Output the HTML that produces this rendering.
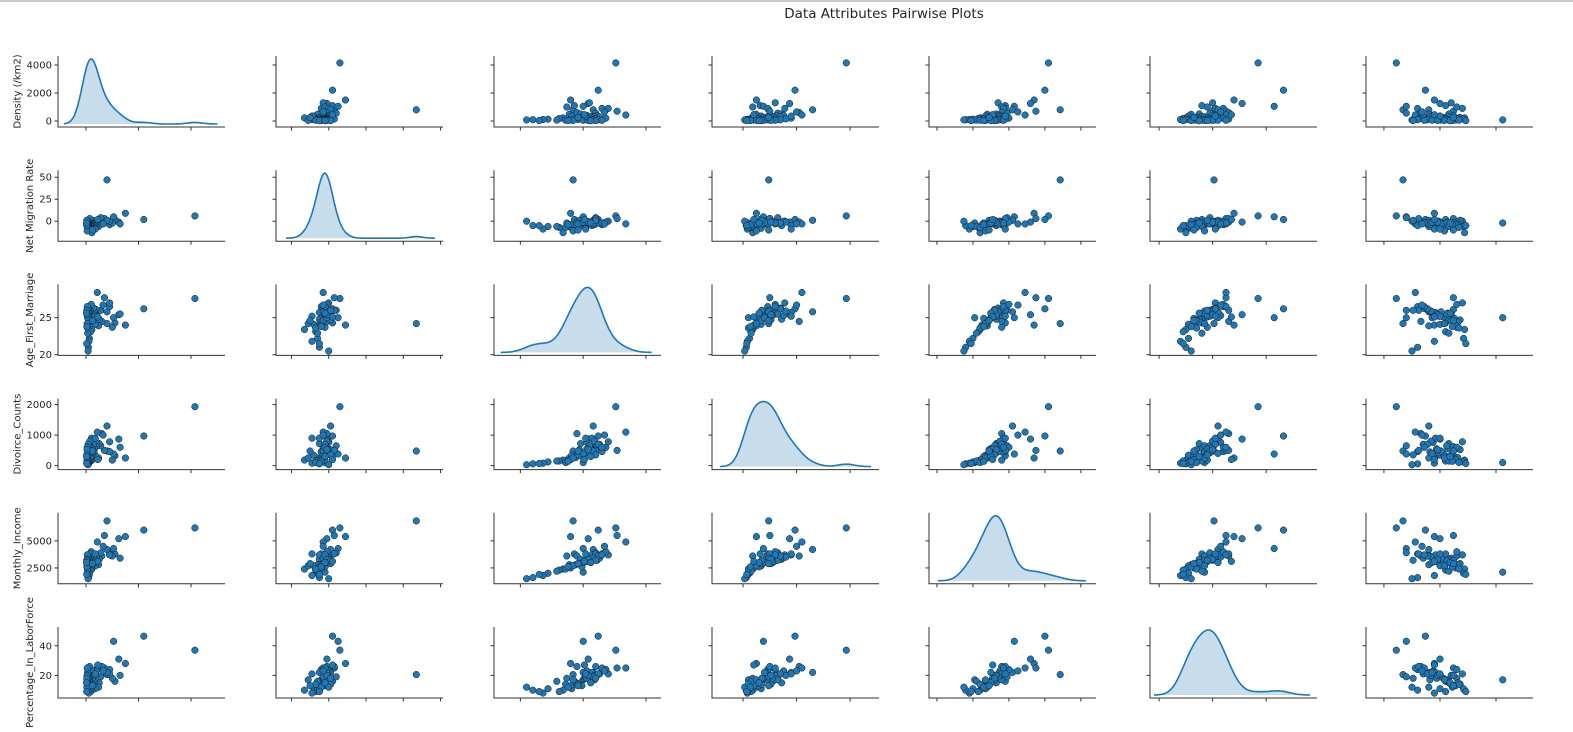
<!DOCTYPE html>
<html><head><meta charset="utf-8"><style>
html,body{margin:0;padding:0;background:#fff;width:1573px;height:732px;overflow:hidden}
svg{display:block}
text{font-family:"DejaVu Sans","Liberation Sans",sans-serif;fill:#262626}
</style></head><body>
<svg id="chart" width="1573" height="732" viewBox="0 0 1573 732" xmlns="http://www.w3.org/2000/svg">
<rect x="0" y="0" width="1573" height="2" fill="#c8c8c8"/>
<text x="884" y="18" font-size="13.5" text-anchor="middle">Data Attributes Pairwise Plots</text>
</svg>
<script>
const varNames = ['Density (/km2)','Net Migration Rate','Age_First_Marriage','Divoirce_Counts','Monthly_Income','Percentage_In_LaborForce','Population (millions)'];
const density = [4150,2200,800,80,1500,1250,1300,1100,1050,900,700,1000,900,800,600,560,500,480,430,400,380,350,330,300,290,260,240,220,210,200,190,180,170,160,150,140,130,120,110,100,95,90,85,80,75,70,65,60,55,50,45,40,35,30,25,20,350,650,450,250];
const netMigration = [6,2,47,-2,9,-1,-3,2,5,-4,3,-2,0,1,-1,4,-5,-6,-3,0,-2,-8,-1,-4,-2,1,-3,-13,-5,-1,-2,-7,0,-4,-1,3,-6,-2,-9,-3,-1,-5,-2,0,-4,-3,-6,-1,-7,-2,-11,-1,-4,1,-5,-2,-9,-3,2,-10];
const ageFirstMarriage = [27.6,26.2,24.2,25.0,24.0,25.4,25.5,24.3,25.0,26.5,27.7,23.7,27.0,25.8,24.5,26.0,24.8,23.9,28.4,25.3,26.1,24.1,25.6,25.9,26.3,24.7,25.1,23.4,25.7,26.8,24.9,23.1,25.2,24.4,25.9,26.0,22.2,25.5,21.8,24.6,25.3,21.0,26.2,20.5,24.0,25.8,22.9,25.0,23.6,26.5,24.2,25.4,23.8,26.0,21.5,25.6,25.2,26.7,25.1,24.6];
const divorceCounts = [1930,970,480,100,250,870,600,320,380,460,500,180,780,1300,1050,650,720,250,1100,760,620,340,560,450,700,520,380,180,900,600,300,150,420,260,800,500,120,650,80,350,550,60,700,30,200,480,150,400,100,600,250,520,140,350,70,300,900,1000,200,480];
const monthlyIncome = [6200,6000,6850,2100,5400,5200,3400,3800,4300,3800,5500,3600,3700,4200,3600,3900,3300,2800,4900,3500,3200,2700,3000,3600,3400,2900,3100,2400,3700,4000,2600,2300,3300,2800,3500,3800,2000,3200,1800,2900,3100,1600,3600,1500,2500,3400,2200,3000,2400,3700,2700,3300,2600,3200,1900,3000,3800,4500,3100,2900];
const pctLaborForce = [37,46.5,20.5,17,28,31,20,16,43,24,25,18,21,22,26,19,15,12,25,23,20,11,16,17,21,14,18,10,22,24,13,9,19,15,20,26,11,17,8,14,18,10,21,12,13,19,16,22,14,25,17,20,12,18,9,15,21,23,27,13];
const population = [11,37,17,106,45,50,60,55,20,30,62,65,70,40,33,20,58,40,28,44,62,50,57,41,35,68,53,72,46,65,63,55,49,66,42,31,71,56,45,60,47,30,39,25,64,51,58,43,67,36,54,48,61,26,73,59,50,34,45,62];
const series = [density,netMigration,ageFirstMarriage,divorceCounts,monthlyIncome,pctLaborForce,population];
const xDomains = [[-1067,5295],[-28.3,61.3],[17.9,31.2],[-580,2540],[-442,8840],[-3.4,59],[-16,133]];
const yDomains = [[-429,4643],[-22.7,58],[19.9,29.5],[-131,2197],[1030,7600],[4.7,52.7]];
const xTicks = [[0,2000,4000],[-20,0,20,40,60],[20,25,30],[0,1000,2000],[0,2000,4000,6000,8000],[0,20,40],[0,50,100]];
const yTicks = [[0,2000,4000],[0,25,50],[20,25],[0,1000,2000],[2500,5000],[20,40]];

const NS='http://www.w3.org/2000/svg';
const svg=document.getElementById('chart');
const LEFT=[58,276,494,712,929,1150,1366], W=167, H=71;
const TOP=r=>56+114.2*r;
function mk(tag,attrs,parent){const e=document.createElementNS(NS,tag);for(const k in attrs)e.setAttribute(k,attrs[k]);(parent||svg).appendChild(e);return e;}
function xs(c,v){const d=xDomains[c];return LEFT[c]+(v-d[0])/(d[1]-d[0])*W;}
function ys(r,v){const d=yDomains[r];return TOP(r)+H-(v-d[0])/(d[1]-d[0])*H;}

for(let r=0;r<6;r++){
  for(let c=0;c<7;c++){
    const g=mk('g',{});
    
    
    const x0=LEFT[c], y0=TOP(r), yb=y0+H;
    if(r===c){
      const vals=series[c];const n=vals.length;
      const mean=vals.reduce((a,b)=>a+b,0)/n;
      const sd=Math.sqrt(vals.reduce((a,b)=>a+(b-mean)*(b-mean),0)/(n-1));
      const bw=sd*Math.pow(n,-0.2);
      const mn=Math.min(...vals)-3*bw, mx=Math.max(...vals)+3*bw;
      const pts=[];let peak=0;
      for(let i=0;i<=240;i++){const v=mn+(mx-mn)*i/240;let s=0;for(const d of vals){const z=(v-d)/bw;s+=Math.exp(-0.5*z*z);}pts.push([v,s]);if(s>peak)peak=s;}
      const base=yb-3, top=y0+3;
      let dl='';pts.forEach((p,i)=>{const px=xs(c,p[0]),py=base-(p[1]/peak)*(base-top);dl+=(i?'L':'M')+px.toFixed(1)+','+py.toFixed(1);});
      const fill=mk('path',{d:dl+'L'+xs(c,mx).toFixed(1)+','+base+'L'+xs(c,mn).toFixed(1)+','+base+'Z',fill:'#1f77b4','fill-opacity':'0.25',stroke:'none'},g);
      
      
      const line=mk('path',{d:dl,fill:'none',stroke:'#1f77b4','stroke-width':'1.6'},g);
      
      
    } else {
      const xv=series[c], yv=series[r];
      for(let i=0;i<xv.length;i++){
        const pt=mk('circle',{cx:xs(c,xv[i]).toFixed(1),cy:ys(r,yv[i]).toFixed(1),r:'3.3',fill:'#1f77b4',stroke:'#1a1a1a','stroke-width':'0.5'},g);
        
        
      }
    }
    const ax=mk('path',{d:'M'+x0+','+y0+'V'+yb+'H'+(x0+W),fill:'none',stroke:'#333','stroke-width':'1'},g);
    
    
    for(const t of xTicks[c]){const px=xs(c,t);const tk=mk('line',{x1:px,x2:px,y1:yb,y2:yb+3.5,stroke:'#333','stroke-width':'1'},g);
      
      }
    for(const t of yTicks[r]){const py=ys(r,t);const tk=mk('line',{x1:x0-3.5,x2:x0,y1:py,y2:py,stroke:'#333','stroke-width':'1'},g);
      
      
      if(c===0){const lb=mk('text',{x:x0-6,y:py+3.5,'font-size':'10','text-anchor':'end'},g);lb.textContent=t;
        
        }}
  }
  const maxLen=Math.max(...yTicks[r].map(t=>String(t).length));
  const lx=58-6-maxLen*6.4-6;
  const cy=TOP(r)+H/2;
  const yl=mk('text',{x:lx,y:cy,'font-size':'10','text-anchor':'middle',transform:'rotate(-90 '+lx+' '+cy+')'});
  yl.textContent=varNames[r];
  
  
}
const cy6=TOP(6)+H/2+60, lx6=30;
const yl6=mk('text',{x:lx6,y:cy6,'font-size':'10','text-anchor':'middle',transform:'rotate(-90 '+lx6+' '+cy6+')'});
yl6.textContent=varNames[6];


</script>
</body></html>
